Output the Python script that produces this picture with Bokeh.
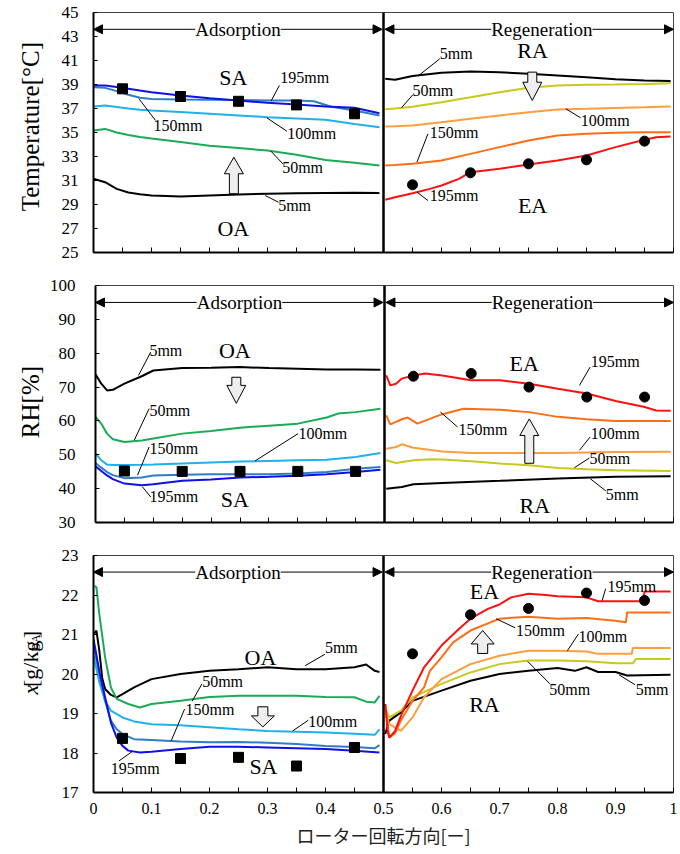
import math
from bokeh.plotting import figure
from bokeh.layouts import column, row
from bokeh.models import Range1d, FixedTicker, Span, Arrow, NormalHead, Label
from bokeh.core.properties import value
from bokeh.embed import file_html
from bokeh.resources import INLINE

SERIF = "Liberation Serif"
CJK = "Noto Sans CJK JP"

# ---------------- axes / ticks / titles ----------------
X_TICKS = [0, 0.1, 0.2, 0.3, 0.4, 0.5, 0.6, 0.7, 0.8, 0.9, 1.0]
X_TICK_LABELS = ["0", "0.1", "0.2", "0.3", "0.4", "0.5", "0.6", "0.7", "0.8", "0.9", "1"]
X_MINOR = [0.05, 0.15, 0.25, 0.35, 0.45, 0.55, 0.65, 0.75, 0.85, 0.95]
T_TICKS = [25, 27, 29, 31, 33, 35, 37, 39, 41, 43, 45]
RH_TICKS = [30, 40, 50, 60, 70, 80, 90, 100]
AH_TICKS = [17, 18, 19, 20, 21, 22, 23]
X_TITLE = "ローター回転方向[ー]"
T_TITLE = "Temperature[°C]"
RH_TITLE = "RH[%]"
AH_TITLE_PARTS = ["x", "[g/kg", "DA", "]"]

MEAS_X_ADS = [0.05, 0.15, 0.25, 0.35, 0.45]
MEAS_X_REG = [0.55, 0.65, 0.75, 0.85, 0.95]

ADS_COLORS = {"5mm": "#000000", "50mm": "#1aab56", "100mm": "#1fb0ee", "150mm": "#2e7ec4", "195mm": "#1010e8"}
REG_COLORS = {"5mm": "#000000", "50mm": "#c8c81e", "100mm": "#ff9d3c", "150mm": "#ff6e14", "195mm": "#ff1010"}

# ---------------- Temperature [°C] ----------------
T_ADS_X = [0, 0.02, 0.04, 0.06, 0.08, 0.1, 0.15, 0.2, 0.25, 0.3, 0.35, 0.4, 0.45, 0.493]
T_ADS_5 = [31.14, 30.86, 30.3, 30.0, 29.85, 29.75, 29.67, 29.75, 29.83, 29.9, 29.93, 29.95, 29.97, 29.95]
T_ADS_50 = [35.17, 35.3, 35.0, 34.8, 34.62, 34.5, 34.2, 33.9, 33.7, 33.5, 33.14, 32.7, 32.47, 32.25]
T_ADS_100 = [37.17, 37.25, 37.12, 37.0, 36.9, 36.83, 36.7, 36.56, 36.42, 36.28, 36.17, 36.06, 35.7, 35.44]
T_ADS_150_X = [0, 0.02, 0.04, 0.06, 0.08, 0.1, 0.15, 0.2, 0.25, 0.3, 0.35, 0.38, 0.41, 0.45, 0.493]
T_ADS_150 = [38.78, 38.72, 38.45, 38.15, 37.9, 37.8, 37.75, 37.72, 37.7, 37.67, 37.67, 37.6, 37.15, 36.83, 36.42]
T_ADS_195 = [38.92, 38.92, 38.8, 38.65, 38.5, 38.36, 38.08, 37.86, 37.67, 37.47, 37.33, 37.17, 37.06, 36.6]
T_SA = [38.64, 38.0, 37.6, 37.3, 36.56]

T_REG_X = [0.503, 0.52, 0.55, 0.6, 0.65, 0.7, 0.75, 0.8, 0.85, 0.9, 0.95, 0.995]
T_REG_5 = [39.47, 39.39, 39.7, 39.97, 40.08, 40.03, 39.89, 39.75, 39.61, 39.44, 39.33, 39.3]
T_REG_50 = [36.94, 37.0, 37.15, 37.53, 37.94, 38.36, 38.72, 38.92, 38.97, 39.0, 39.05, 39.11]
T_REG_100 = [35.5, 35.52, 35.58, 35.86, 36.14, 36.42, 36.69, 36.92, 36.97, 37.05, 37.11, 37.17]
T_REG_150 = [32.25, 32.3, 32.39, 32.67, 33.22, 33.78, 34.33, 34.75, 34.89, 34.97, 35.03, 35.03]
T_REG_195_X = [0.503, 0.52, 0.55, 0.58, 0.6, 0.63, 0.65, 0.7, 0.75, 0.8, 0.85, 0.9, 0.95, 0.97, 0.995]
T_REG_195 = [29.39, 29.61, 29.94, 30.3, 30.58, 31.14, 31.69, 31.97, 32.33, 32.67, 33.08, 33.78, 34.39, 34.6, 34.67]
T_EA = [30.64, 31.64, 32.39, 32.72, 34.28]

# ---------------- RH [%] ----------------
RH_ADS_X = [0, 0.01, 0.02, 0.03, 0.05, 0.08, 0.1, 0.15, 0.2, 0.25, 0.3, 0.35, 0.4, 0.45, 0.493]
RH_ADS_5 = [73.75, 71.0, 69.0, 69.2, 71.0, 73.2, 74.9, 75.6, 75.7, 75.9, 75.6, 75.4, 75.2, 75.2, 75.1]
RH_ADS_50_X = [0, 0.01, 0.02, 0.03, 0.05, 0.08, 0.1, 0.15, 0.2, 0.25, 0.3, 0.35, 0.4, 0.42, 0.45, 0.493]
RH_ADS_50 = [61.2, 59.2, 56.25, 54.6, 53.8, 54.2, 54.8, 56.25, 57.0, 58.0, 58.6, 59.2, 61.0, 62.2, 62.6, 63.6]
RH_ADS_100 = [50.35, 48.4, 47.1, 47.0, 47.0, 47.05, 47.1, 47.4, 47.7, 48.0, 48.2, 48.35, 48.5, 49.35, 50.5]
RH_ADS_150 = [47.6, 46.2, 44.9, 44.0, 43.1, 43.3, 43.9, 44.1, 44.25, 44.25, 44.25, 44.5, 44.9, 45.9, 46.4]
RH_ADS_195 = [46.6, 45.2, 43.9, 42.8, 41.5, 41.0, 41.3, 42.3, 42.7, 43.3, 43.5, 43.8, 44.25, 44.9, 45.6]
RH_SA = [45.2, 45.1, 45.1, 45.1, 45.1]

RH_REG_195_X = [0.503, 0.51, 0.52, 0.53, 0.55, 0.57, 0.6, 0.65, 0.7, 0.75, 0.8, 0.85, 0.9, 0.95, 0.97, 0.995]
RH_REG_195 = [73.45, 70.5, 71.0, 72.5, 73.45, 74.0, 73.45, 72.0, 72.0, 71.0, 69.5, 68.1, 65.9, 64.1, 63.1, 63.0]
RH_REG_150_X = [0.503, 0.51, 0.53, 0.54, 0.557, 0.6, 0.637, 0.7, 0.75, 0.8, 0.85, 0.9, 0.995]
RH_REG_150 = [61.65, 59.0, 60.5, 61.0, 59.2, 62.0, 63.6, 63.3, 62.6, 61.2, 60.5, 60.0, 60.0]
RH_REG_100_X = [0.503, 0.52, 0.53, 0.55, 0.6, 0.65, 0.8, 0.9, 0.995]
RH_REG_100 = [51.8, 52.3, 53.1, 52.1, 51.0, 50.5, 50.5, 50.8, 50.9]
RH_REG_50_X = [0.503, 0.52, 0.55, 0.58, 0.6, 0.65, 0.7, 0.75, 0.8, 0.85, 0.9, 0.995]
RH_REG_50 = [48.4, 47.6, 48.4, 48.7, 48.6, 48.1, 47.4, 46.9, 46.1, 45.7, 45.4, 45.2]
RH_REG_5_X = [0.503, 0.53, 0.55, 0.6, 0.7, 0.8, 0.9, 0.995]
RH_REG_5 = [40.0, 40.5, 41.3, 41.7, 42.3, 43.0, 43.5, 43.65]
RH_EA = [73.2, 74.0, 70.0, 67.05, 67.05]

# ---------------- Absolute humidity x [g/kgDA] ----------------
AH_ADS_5_X = [0, 0.005, 0.01, 0.015, 0.02, 0.03, 0.04, 0.05, 0.07, 0.1, 0.15, 0.2, 0.25, 0.3, 0.35, 0.4, 0.45, 0.47, 0.485, 0.493]
AH_ADS_5 = [21.0, 21.1, 20.6, 19.9, 19.62, 19.47, 19.41, 19.49, 19.66, 19.87, 20.0, 20.08, 20.12, 20.17, 20.12, 20.12, 20.17, 20.24, 20.08, 20.05]
AH_ADS_50_X = [0, 0.005, 0.01, 0.02, 0.03, 0.04, 0.06, 0.08, 0.1, 0.15, 0.2, 0.25, 0.3, 0.35, 0.4, 0.45, 0.47, 0.485, 0.493]
AH_ADS_50 = [22.24, 22.2, 21.52, 20.42, 19.66, 19.37, 19.24, 19.15, 19.24, 19.32, 19.42, 19.45, 19.45, 19.45, 19.42, 19.41, 19.3, 19.28, 19.45]
AH_ADS_100_X = [0, 0.01, 0.02, 0.03, 0.05, 0.07, 0.1, 0.15, 0.2, 0.25, 0.3, 0.35, 0.4, 0.45, 0.485, 0.493]
AH_ADS_100 = [20.46, 19.79, 19.32, 19.07, 18.9, 18.8, 18.73, 18.7, 18.65, 18.6, 18.56, 18.54, 18.52, 18.49, 18.46, 18.6]
AH_ADS_150_X = [0, 0.01, 0.02, 0.03, 0.04, 0.05, 0.07, 0.1, 0.15, 0.2, 0.25, 0.3, 0.35, 0.4, 0.45, 0.485, 0.493]
AH_ADS_150 = [20.72, 20.0, 19.32, 18.82, 18.6, 18.48, 18.35, 18.33, 18.29, 18.27, 18.28, 18.26, 18.23, 18.18, 18.15, 18.12, 18.2]
AH_ADS_195_X = [0, 0.01, 0.02, 0.03, 0.04, 0.05, 0.06, 0.08, 0.1, 0.15, 0.2, 0.25, 0.3, 0.35, 0.4, 0.45, 0.493]
AH_ADS_195 = [20.89, 20.08, 19.41, 18.77, 18.39, 18.18, 18.06, 18.01, 18.03, 18.1, 18.16, 18.16, 18.14, 18.12, 18.1, 18.06, 18.01]
AH_SA = [18.37, 17.86, 17.89, 17.67, 18.14]

AH_REG_195_X = [0.503, 0.507, 0.51, 0.52, 0.53, 0.55, 0.57, 0.6, 0.63, 0.65, 0.68, 0.7, 0.72, 0.75, 0.78, 0.8, 0.85, 0.87, 0.9, 0.948, 0.95, 0.995]
AH_REG_195 = [19.24, 18.56, 18.39, 18.56, 18.94, 19.58, 20.17, 20.72, 21.14, 21.4, 21.65, 21.76, 21.94, 22.03, 22.0, 21.97, 21.94, 21.84, 21.84, 21.84, 22.09, 22.09]
AH_REG_150_X = [0.503, 0.51, 0.52, 0.53, 0.55, 0.57, 0.58, 0.6, 0.62, 0.65, 0.68, 0.7, 0.75, 0.8, 0.85, 0.9, 0.918, 0.92, 0.995]
AH_REG_150 = [19.24, 18.39, 18.5, 18.82, 19.32, 19.66, 20.08, 20.42, 20.8, 21.1, 21.28, 21.4, 21.45, 21.4, 21.42, 21.35, 21.31, 21.56, 21.56]
AH_REG_100_X = [0.503, 0.51, 0.53, 0.55, 0.57, 0.6, 0.65, 0.7, 0.75, 0.8, 0.85, 0.87, 0.928, 0.93, 0.995]
AH_REG_100 = [19.07, 18.73, 18.56, 18.9, 19.41, 19.87, 20.25, 20.46, 20.59, 20.59, 20.57, 20.51, 20.51, 20.66, 20.66]
AH_REG_50_X = [0.503, 0.51, 0.53, 0.55, 0.6, 0.65, 0.7, 0.75, 0.8, 0.85, 0.9, 0.93, 0.935, 0.995]
AH_REG_50 = [19.15, 18.9, 19.07, 19.41, 19.75, 20.04, 20.25, 20.34, 20.34, 20.32, 20.27, 20.27, 20.38, 20.38]
AH_REG_5_X = [0.503, 0.51, 0.53, 0.55, 0.6, 0.65, 0.7, 0.75, 0.8, 0.83, 0.85, 0.87, 0.9, 0.92, 0.995]
AH_REG_5 = [18.48, 18.82, 19.03, 19.32, 19.58, 19.83, 20.0, 20.08, 20.15, 20.08, 20.17, 20.05, 20.05, 19.96, 19.98]
AH_EA = [20.51, 21.5, 21.66, 22.05, 21.86]

# ---------------- annotations (data coords) ----------------
P1_BIG = [("SA", 0.241, 39.58), ("OA", 0.241, 27.0), ("RA", 0.757, 41.83), ("EA", 0.757, 28.92)]
P1_MM = [("195mm", 0.322, 39.58), ("150mm", 0.1036, 35.58), ("100mm", 0.334, 34.92), ("50mm", 0.3253, 32.11),
         ("5mm", 0.3184, 28.92), ("5mm", 0.597, 41.56), ("50mm", 0.5498, 38.5), ("100mm", 0.840, 36.0),
         ("150mm", 0.5796, 35.03), ("195mm", 0.5796, 29.75)]
P1_LEAD = [(0.3205, 38.92, 0.306, 37.61), (0.0784, 37.81, 0.107, 36.0), (0.299, 36.22, 0.3333, 35.11),
           (0.306, 33.44, 0.3265, 32.39), (0.296, 29.75, 0.319, 29.19), (0.5607, 39.75, 0.597, 41.14),
           (0.531, 37.06, 0.551, 38.17), (0.8144, 36.97, 0.840, 36.22), (0.5577, 32.53, 0.5766, 34.89),
           (0.5577, 30.03, 0.5766, 29.33)]
P1_BLOCK = [(0.242, 29.9, 31.56, 32.94), (0.7565, 40.03, 39.19, 37.67)]

P2_BIG = [("OA", 0.241, 80.83), ("SA", 0.241, 36.87), ("EA", 0.7416, 76.9), ("RA", 0.76, 35.1)]
P2_MM = [("5mm", 0.0933, 80.83), ("50mm", 0.0933, 63.13), ("150mm", 0.0933, 51.83), ("100mm", 0.351, 56.25),
         ("195mm", 0.0933, 37.55), ("195mm", 0.857, 77.67), ("150mm", 0.628, 57.43), ("100mm", 0.857, 56.25),
         ("50mm", 0.8545, 48.88), ("5mm", 0.883, 38.35)]
P2_LEAD = [(0.0744, 73.45, 0.0955, 80.33), (0.067, 54.28, 0.0928, 63.63), (0.0727, 43.95, 0.0928, 52.3),
           (0.276, 48.17, 0.3505, 56.25), (0.0813, 40.5, 0.0955, 37.55), (0.8373, 70.5, 0.8557, 75.9),
           (0.5967, 62.63, 0.6265, 58.2), (0.8373, 51.33, 0.8557, 55.25), (0.8287, 46.22, 0.8545, 49.05),
           (0.8557, 42.98, 0.883, 39.32)]
P2_BLOCK = [(0.2436, 72.9, 70.5, 65.2), (0.7505, 47.5, 55.7, 60.6)]

P3_BIG = [("OA", 0.2878, 20.42), ("SA", 0.293, 17.65), ("EA", 0.674, 22.09), ("RA", 0.674, 19.24)]
P3_MM = [("5mm", 0.399, 20.67), ("50mm", 0.1873, 19.81), ("150mm", 0.1586, 19.09), ("100mm", 0.3704, 18.8),
         ("195mm", 0.0297, 17.62), ("195mm", 0.886, 22.21), ("150mm", 0.7285, 21.1), ("100mm", 0.836, 20.95),
         ("50mm", 0.7857, 19.62), ("5mm", 0.9347, 19.62)]
P3_LEAD = [(0.3648, 20.21, 0.399, 20.5), (0.170, 19.31, 0.187, 19.75), (0.134, 18.31, 0.157, 19.11),
           (0.3436, 18.56, 0.3704, 18.83), (0.044, 17.8, 0.067, 18.04), (0.877, 21.86, 0.883, 22.16),
           (0.694, 21.4, 0.727, 21.17), (0.817, 20.59, 0.836, 21.01), (0.7485, 20.32, 0.787, 19.75),
           (0.906, 19.98, 0.9335, 19.73)]
P3_BLOCK = [(0.292, 19.17, 18.94, 18.66), (0.671, 20.52, 20.76, 21.1)]

# ---------------- layout (pixels) ----------------
SIDE_W = 46
PANEL_W = 632
BORDER_L = 47
BORDER_R = 5
PLOT_W_PX = float(PANEL_W - BORDER_L - BORDER_R)
H1, H2, H3 = 268, 270, 314


def make_panel(height, yr, yticks, b_top, b_bot, lab_standoff, last):
    p = figure(width=PANEL_W, height=height, x_range=Range1d(0, 1), y_range=Range1d(*yr),
               output_backend="svg", toolbar_location=None,
               min_border_left=BORDER_L, min_border_right=BORDER_R, min_border_top=b_top, min_border_bottom=b_bot)
    p.grid.visible = False
    p.outline_line_color = "#444444"
    p.outline_line_width = 1
    p.background_fill_color = "white"
    p.border_fill_color = "white"
    ya = p.yaxis[0]
    ya.ticker = FixedTicker(ticks=yticks, minor_ticks=[])
    ya.major_tick_in = 4
    ya.major_tick_out = 0
    ya.minor_tick_in = 0
    ya.minor_tick_out = 0
    ya.axis_line_color = "black"
    ya.axis_line_width = 2
    ya.major_tick_line_color = "black"
    ya.major_label_text_font = SERIF
    ya.major_label_text_font_size = "17px"
    ya.major_label_text_color = "black"
    ya.major_label_standoff = lab_standoff
    xa = p.xaxis[0]
    if last:
        xa.ticker = FixedTicker(ticks=X_TICKS, minor_ticks=X_MINOR)
        xa.major_label_overrides = dict(zip(X_TICKS, X_TICK_LABELS))
        xa.major_label_text_font = SERIF
        xa.major_label_text_font_size = "16px"
        xa.major_label_text_color = "black"
        xa.major_label_standoff = 10
        xa.axis_label = X_TITLE
        xa.axis_label_text_font = CJK
        xa.axis_label_text_font_size = "18px"
        xa.axis_label_text_font_style = "normal"
        xa.axis_label_text_color = "#222222"
        xa.axis_label_standoff = 5
    else:
        xa.ticker = FixedTicker(ticks=[], minor_ticks=X_TICKS + X_MINOR)
    xa.major_tick_in = 5
    xa.major_tick_out = 0
    xa.minor_tick_in = 5
    xa.minor_tick_out = 0
    xa.axis_line_color = "black"
    xa.axis_line_width = 2
    xa.major_tick_line_color = "black"
    xa.minor_tick_line_color = "black"
    p.add_layout(Span(location=0.5, dimension="height", line_color="black", line_width=2.5))
    return p


def make_side(height, parts):
    s = figure(width=SIDE_W, height=height, x_range=Range1d(0, SIDE_W), y_range=Range1d(0, height),
               output_backend="svg", toolbar_location=None, x_axis_type=None, y_axis_type=None,
               min_border=0, min_border_left=0, min_border_right=0, min_border_top=0, min_border_bottom=0)
    s.grid.visible = False
    s.outline_line_color = None
    s.border_fill_color = "white"
    s.background_fill_color = "white"
    for txt, x0, y0, sz, st, al in parts:
        s.text([x0], [y0], text=[txt], angle=math.pi / 2, text_font=value(SERIF), text_font_size=sz,
               text_font_style=st, text_align=al, text_baseline="alphabetic", text_color="black")
    return s


def add_phase_arrows(p, y):
    for (x0, x1, lab, xc) in [(0.0, 0.4975, "Adsorption", 0.249), (0.5025, 1.0, "Regeneration", 0.773)]:
        p.add_layout(Arrow(x_start=x0, y_start=y, x_end=x1, y_end=y, line_color="black", line_width=1,
                           start=NormalHead(size=9, fill_color="black", line_color="black"),
                           end=NormalHead(size=9, fill_color="black", line_color="black")))
        p.add_layout(Label(x=xc, y=y, text=lab, text_align="center", text_baseline="middle",
                           text_font=SERIF, text_font_size="19px", text_color="black",
                           background_fill_color="white"))


def add_curves(p, series, colors):
    for name, xs, ys in series:
        p.line(xs, ys, line_color=colors[name], line_width=2)


def add_annotations(p, big, mm, lead, blocks, head_hw, shaft_hw):
    p.segment([l[0] for l in lead], [l[1] for l in lead], [l[2] for l in lead], [l[3] for l in lead],
              line_color="black", line_width=1)
    p.text([b[1] for b in big], [b[2] for b in big], text=[b[0] for b in big], text_font=value(SERIF),
           text_font_size="22px", text_align="center", text_baseline="middle", text_color="black")
    p.text([m[1] for m in mm], [m[2] for m in mm], text=[m[0] for m in mm], text_font=value(SERIF),
           text_font_size="16px", text_align="left", text_baseline="middle", text_color="black")
    hw = head_hw / PLOT_W_PX
    sw = shaft_hw / PLOT_W_PX
    xs, ys = [], []
    for xc, tail, base, tip in blocks:
        xs.append([xc - sw, xc + sw, xc + sw, xc + hw, xc, xc - hw, xc - sw])
        ys.append([tail, tail, base, base, tip, base, base])
    p.patches(xs, ys, fill_color="#eeeeee", line_color="black", line_width=1)


def add_markers(p, sa, ea):
    p.scatter(MEAS_X_ADS, sa, marker="square", size=10, fill_color="black", line_color="black")
    p.scatter(MEAS_X_REG, ea, marker="circle", size=10, fill_color="black", line_color="black")


# ---------------- panel 1 : temperature ----------------
p1 = make_panel(H1, (25, 45), T_TICKS, 12, 16, 15, False)
add_curves(p1, [("5mm", T_ADS_X, T_ADS_5), ("50mm", T_ADS_X, T_ADS_50), ("100mm", T_ADS_X, T_ADS_100),
                ("150mm", T_ADS_150_X, T_ADS_150), ("195mm", T_ADS_X, T_ADS_195)], ADS_COLORS)
add_curves(p1, [("5mm", T_REG_X, T_REG_5), ("50mm", T_REG_X, T_REG_50), ("100mm", T_REG_X, T_REG_100),
                ("150mm", T_REG_X, T_REG_150), ("195mm", T_REG_195_X, T_REG_195)], REG_COLORS)
add_markers(p1, T_SA, T_EA)
add_annotations(p1, P1_BIG, P1_MM, P1_LEAD, P1_BLOCK, 9.5, 4.5)
add_phase_arrows(p1, 43.6)
s1 = make_side(H1, [(T_TITLE, 30, H1 - 127.5, "25px", "normal", "center")])

# ---------------- panel 2 : RH ----------------
p2 = make_panel(H2, (30, 100), RH_TICKS, 17, 16, 20, False)
add_curves(p2, [("5mm", RH_ADS_X, RH_ADS_5), ("50mm", RH_ADS_50_X, RH_ADS_50), ("100mm", RH_ADS_X, RH_ADS_100),
                ("150mm", RH_ADS_X, RH_ADS_150), ("195mm", RH_ADS_X, RH_ADS_195)], ADS_COLORS)
add_curves(p2, [("5mm", RH_REG_5_X, RH_REG_5), ("50mm", RH_REG_50_X, RH_REG_50), ("100mm", RH_REG_100_X, RH_REG_100),
                ("150mm", RH_REG_150_X, RH_REG_150), ("195mm", RH_REG_195_X, RH_REG_195)], REG_COLORS)
add_markers(p2, RH_SA, RH_EA)
add_annotations(p2, P2_BIG, P2_MM, P2_LEAD, P2_BLOCK, 9.5, 4.5)
add_phase_arrows(p2, 95.0)
s2 = make_side(H2, [(RH_TITLE, 30, H2 - (400.8 - H1), "25px", "normal", "center")])

# ---------------- panel 3 : absolute humidity ----------------
p3 = make_panel(H3, (17, 23), AH_TICKS, 17, 60, 15, True)
add_curves(p3, [("5mm", AH_ADS_5_X, AH_ADS_5), ("50mm", AH_ADS_50_X, AH_ADS_50), ("100mm", AH_ADS_100_X, AH_ADS_100),
                ("150mm", AH_ADS_150_X, AH_ADS_150), ("195mm", AH_ADS_195_X, AH_ADS_195)], ADS_COLORS)
add_curves(p3, [("5mm", AH_REG_5_X, AH_REG_5), ("50mm", AH_REG_50_X, AH_REG_50), ("100mm", AH_REG_100_X, AH_REG_100),
                ("150mm", AH_REG_150_X, AH_REG_150), ("195mm", AH_REG_195_X, AH_REG_195)], REG_COLORS)
add_markers(p3, AH_SA, AH_EA)
add_annotations(p3, P3_BIG, P3_MM, P3_LEAD, P3_BLOCK, 11.5, 5)
add_phase_arrows(p3, 22.58)
mid3 = H3 - (681 - H1 - H2)
s3 = make_side(H3, [(AH_TITLE_PARTS[0], 30, mid3 - 41, "22px", "italic", "left"),
                    (AH_TITLE_PARTS[1], 30, mid3 - 31.2, "22px", "normal", "left"),
                    (AH_TITLE_PARTS[2], 35, mid3 + 15.6, "12px", "normal", "left"),
                    (AH_TITLE_PARTS[3], 30, mid3 + 33.5, "22px", "normal", "left")])

layout = column(row(s1, p1), row(s2, p2), row(s3, p3))
open("out.html", "w").write(file_html(layout, INLINE))
